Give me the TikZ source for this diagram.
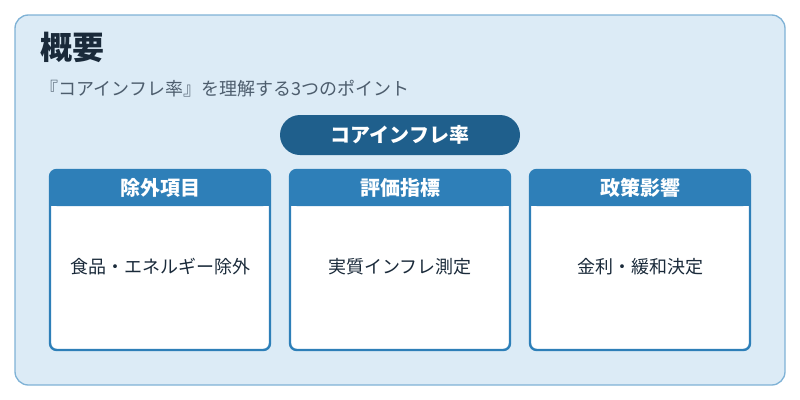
\documentclass[tikz,border=0pt]{standalone}
\usepackage{fontspec}
\setmainfont{Noto Sans CJK JP}
\usetikzlibrary{positioning}
\definecolor{bgblue}{HTML}{DCEBF6}
\definecolor{frameblue}{HTML}{7FB2D6}
\definecolor{pillblue}{HTML}{1F5F8C}
\definecolor{headblue}{HTML}{2E7FB8}
\definecolor{titletext}{HTML}{1A2A3A}
\definecolor{subtext}{HTML}{4D5D6D}
\begin{document}
\begin{tikzpicture}[x=0.75pt,y=-0.75pt,
    card/.style = {draw=headblue, line width=1.8pt, fill=white, rounded corners=5pt},
    head/.style = {fill=headblue, rounded corners=5pt},
    headtext/.style = {text=white, font=\fontsize{15}{18}\selectfont\bfseries},
    bodytext/.style = {text=titletext, font=\fontsize{13.5}{16}\selectfont}]
    \useasboundingbox (0,0) rectangle (800,400);
    % Background panel
    \draw[draw=frameblue, fill=bgblue, line width=1pt, rounded corners=10pt] (15,15) rectangle (785,385);
    % Title and subtitle
    \node[anchor=west, text=titletext, font=\fontsize{24}{28}\selectfont\bfseries] (title) at (36,47) {概要};
    \node[anchor=west, text=subtext, font=\fontsize{13.5}{16}\selectfont] (sub) at (36,89) {『コアインフレ率』を理解する3つのポイント};
    % Central pill
    \node[fill=pillblue, rounded corners=15pt, minimum width=240*0.75pt, minimum height=40*0.75pt,
          headtext] (core) at (400,135) {コアインフレ率};
    % Cards
    \foreach \x/\h/\b/\n in {50/除外項目/食品・エネルギー除外/a, 290/評価指標/実質インフレ測定/b, 530/政策影響/金利・緩和決定/c} {
        \draw[card] (\x,170) rectangle ++(220,180);
        \fill[head] (\x,170) rectangle ++(220,36);
        \fill[headblue] (\x,195) rectangle ++(220,11);
        \node[headtext] (h\n) at (\x+110,188) {\h};
        \node[bodytext] (b\n) at (\x+110,267) {\b};
    }
\end{tikzpicture}
\end{document}
